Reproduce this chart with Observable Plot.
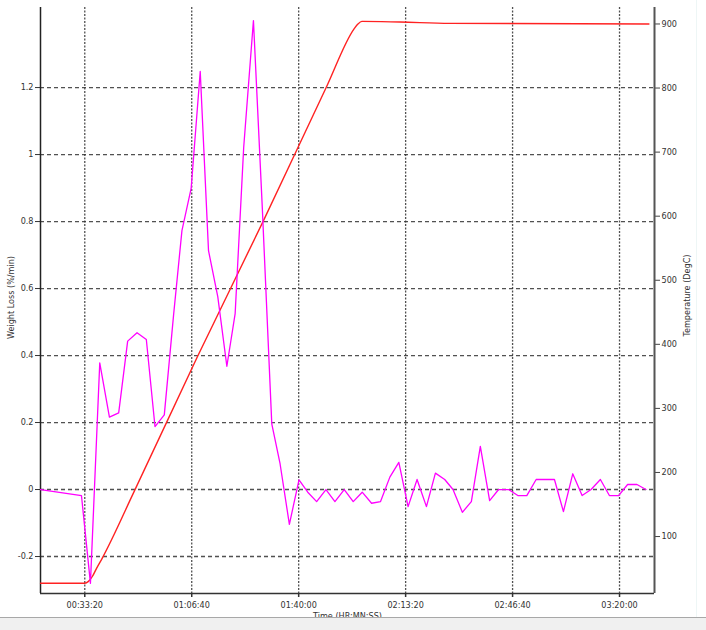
<!DOCTYPE html>
<html>
<head>
<meta charset="utf-8">
<script src="https://cdn.jsdelivr.net/npm/d3@7"></script>
<script src="https://cdn.jsdelivr.net/npm/@observablehq/plot@0.6"></script>
<style>
  html, body { margin: 0; padding: 0; background: #fff; }
  #wrap { position: relative; width: 706px; height: 630px; overflow: hidden; }
  #panel { position: absolute; left: 0; top: 617px; width: 706px; height: 13px; background: #f0f0f0; border-top: 1px solid #a8a8a8; }
  #edge { position: absolute; left: 696px; top: 0; width: 1px; height: 617px; background: #eef6f6; }
</style>
</head>
<body>
<div id="wrap"><div id="chart"></div><div id="edge"></div><div id="panel"></div></div>
<script>
// Weight loss rate (%/min) vs time (s)
const wlTime = [1173, 1938, 2106, 2280, 2461, 2634, 2802, 2977, 3151, 3313, 3487, 3660, 3817, 3990, 4159, 4314, 4487, 4657, 4812, 4972, 5154, 5320, 5497, 5652, 5826, 6006, 6170, 6336, 6510, 6678, 6852, 7020, 7188, 7363, 7531, 7705, 7873, 8046, 8214, 8389, 8557, 8731, 8886, 9061, 9229, 9397, 9571, 9739, 9925, 10098, 10266, 10441, 10612, 10783, 10951, 11125, 11300, 11468, 11642, 11810, 11983, 12151, 12326, 12494];
const wlValue = [0, -0.018, -0.28, 0.378, 0.216, 0.229, 0.443, 0.468, 0.448, 0.188, 0.223, 0.52, 0.773, 0.90, 1.248, 0.713, 0.576, 0.368, 0.525, 1.022, 1.40, 0.84, 0.196, 0.077, -0.104, 0.029, -0.008, -0.036, 0, -0.036, 0, -0.036, -0.008, -0.041, -0.036, 0.037, 0.081, -0.051, 0.030, -0.051, 0.049, 0.030, 0, -0.068, -0.036, 0.129, -0.033, 0, 0, -0.018, -0.018, 0.030, 0.030, 0.030, -0.066, 0.047, -0.018, 0, 0.030, -0.018, -0.018, 0.015, 0.015, 0];

// Temperature (DegC) vs time (s)
const tempTime = [1173, 2000, 2069, 2144, 2218, 2325, 2933, 4097, 5353, 6510, 7033, 7108, 7182, 7891, 8824, 12550];
const tempValue = [27, 27, 30, 38, 50, 66, 172, 379, 595, 800, 892, 900, 904, 903, 901, 900];

// Tick labels
const xTicks = [2000, 4000, 6000, 8000, 10000, 12000];
const yTicks = [-0.2, 0, 0.2, 0.4, 0.6, 0.8, 1, 1.2];
const tempTicks = [100, 200, 300, 400, 500, 600, 700, 800, 900];

const xDomain = [1172, 12654];
const yDomain = [-0.3104, 1.439];
// temperature -> left-axis units
const tA = -0.3316, tB = 0.0019127;
const toLeft = t => tA + tB * t;
const fromLeft = v => (v - tA) / tB;

const fmtTime = s => {
  const h = Math.floor(s / 3600), m = Math.floor((s % 3600) / 60), sec = Math.round(s % 60);
  return [h, m, sec].map(d => String(d).padStart(2, "0")).join(":");
};

const wl = wlTime.map((t, i) => ({t, v: wlValue[i]}));
const temp = tempTime.map((t, i) => ({t, v: toLeft(tempValue[i])}));

const chart = Plot.plot({
  width: 706,
  height: 630,
  marginLeft: 40,
  marginRight: 52,
  marginTop: 7,
  marginBottom: 37,
  style: {fontFamily: "'DejaVu Sans Condensed', 'DejaVu Sans', sans-serif", fontSize: "9px", color: "#333", background: "transparent"},
  x: {domain: xDomain},
  y: {domain: yDomain},
  marks: [
    Plot.gridY(yTicks, {stroke: "#333", strokeOpacity: 0.85, strokeWidth: 1.3, strokeDasharray: "4,3"}),
    Plot.gridX(xTicks, {stroke: "#333", strokeOpacity: 0.85, strokeWidth: 1.3, strokeDasharray: "2,1.5"}),
    Plot.axisY(yTicks, {anchor: "left", tickSize: 5, tickPadding: 2, label: null, tickFormat: d => String(d), stroke: "#333"}),
    Plot.axisY(tempTicks.map(toLeft), {anchor: "right", tickSize: 5, tickPadding: 2, label: null, tickFormat: d => String(Math.round(fromLeft(d))), stroke: "#444"}),
    Plot.axisX(xTicks, {tickSize: 4, tickPadding: 4, label: null, tickFormat: fmtTime, stroke: "#333", strokeWidth: 1.5}),
    Plot.ruleX([xDomain[0]], {stroke: "#222", strokeWidth: 1.5}),
    Plot.ruleX([xDomain[1]], {stroke: "#555", strokeWidth: 2}),
    Plot.ruleY([yDomain[0]], {stroke: "#333", strokeWidth: 1.5}),
    Plot.line(temp, {x: "t", y: "v", stroke: "#ff2222", strokeWidth: 1.4, curve: "monotone-x"}),
    Plot.line(wl, {x: "t", y: "v", stroke: "#ff00ff", strokeWidth: 1.3}),
    Plot.text(["Weight Loss (%/min)"], {frameAnchor: "left", textAnchor: "middle", dx: -29, dy: -3, rotate: -90, fill: "#333"}),
    Plot.text(["Temperature (DegC)"], {frameAnchor: "right", textAnchor: "middle", dx: 33, dy: -5, rotate: -90, fill: "#333"}),
    Plot.text(["Time (HR:MN:SS)"], {frameAnchor: "bottom", dy: 19, lineAnchor: "top", fill: "#333"})
  ]
});
document.getElementById("chart").appendChild(chart);
</script>
</body>
</html>
